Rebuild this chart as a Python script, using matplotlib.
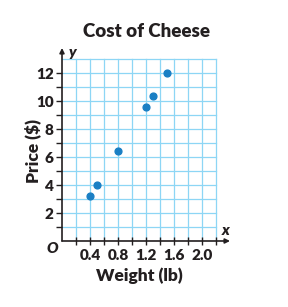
import matplotlib.pyplot as plt
import numpy as np

weight = [0.4, 0.5, 0.8, 1.2, 1.3, 1.5]
price = [3.2, 4.0, 6.4, 9.6, 10.4, 12.0]

x_major = [0.4, 0.8, 1.2, 1.6, 2.0]
x_minor = [0.2, 0.6, 1.0, 1.4, 1.8, 2.2]
y_major = [2, 4, 6, 8, 10, 12]
y_minor = [1, 3, 5, 7, 9, 11]

grid_color = '#8dd6f5'
dot_color = '#1a7fc4'
ink = '#231f20'

plt.rcParams['font.family'] = ['Lato', 'DejaVu Sans']

fig = plt.figure(figsize=(2.88, 3.07), dpi=100)
ax = fig.add_axes([0.2153, 0.215, 0.5833, 0.6287])
ax.set_xlim(0, 2.4)
ax.set_ylim(0, 13.8)

# light blue grid, only up to 2.2 x 13
for gx in np.arange(0.2, 2.21, 0.2):
    ax.plot([gx, gx], [0, 13], color=grid_color, lw=0.9, zorder=1)
for gy in range(1, 14):
    ax.plot([0, 2.2], [gy, gy], color=grid_color, lw=0.9, zorder=1)

# axes with arrows
for s in ax.spines.values():
    s.set_visible(False)
ax.annotate('', xy=(2.4, 0), xytext=(0, 0),
            arrowprops=dict(arrowstyle='-|>', color=ink, lw=1.2,
                            mutation_scale=7, shrinkA=0, shrinkB=0),
            annotation_clip=False)
ax.annotate('', xy=(0, 13.8), xytext=(0, 0),
            arrowprops=dict(arrowstyle='-|>', color=ink, lw=1.2,
                            mutation_scale=7, shrinkA=0, shrinkB=0),
            annotation_clip=False)

ax.scatter(weight, price, s=24, color=dot_color, zorder=3, clip_on=False)

ax.set_xticks(x_major)
ax.set_xticklabels([f'{v:.1f}' for v in x_major])
ax.set_xticks(x_minor, minor=True)
ax.set_yticks(y_major)
ax.set_yticklabels([str(v) for v in y_major])
ax.set_yticks(y_minor, minor=True)
ax.tick_params(axis='y', which='both', direction='out', length=4,
               width=1.0, color=ink)
ax.tick_params(axis='x', which='both', direction='inout', length=6,
               width=1.0, color=ink)
ax.tick_params(axis='y', labelsize=11, pad=2)
ax.tick_params(axis='x', labelsize=11, pad=3)
for lab in ax.get_xticklabels() + ax.get_yticklabels():
    lab.set_fontweight('heavy')
    lab.set_color(ink)

ax.set_xlabel('Weight (lb)', fontsize=12.5, fontweight='heavy', color=ink)
ax.xaxis.set_label_coords(0.458, -0.135)
ax.set_ylabel('Price ($)', fontsize=12.5, fontweight='heavy', color=ink)
ax.yaxis.set_label_coords(-0.125, 0.466)
ax.set_title('Cost of Cheese', fontsize=13.5, fontweight='heavy', color=ink, pad=8)

ax.text(-0.14, -0.55, 'O', fontsize=11, fontweight='heavy', style='italic',
        ha='center', va='center', color=ink)
ax.text(2.33, 0.75, 'x', fontsize=11, fontweight='heavy', style='italic',
        ha='center', va='center', color=ink)
ax.text(0.15, 13.45, 'y', fontsize=11, fontweight='heavy', style='italic',
        ha='center', va='center', color=ink)

fig.savefig('out.png', dpi=100)
